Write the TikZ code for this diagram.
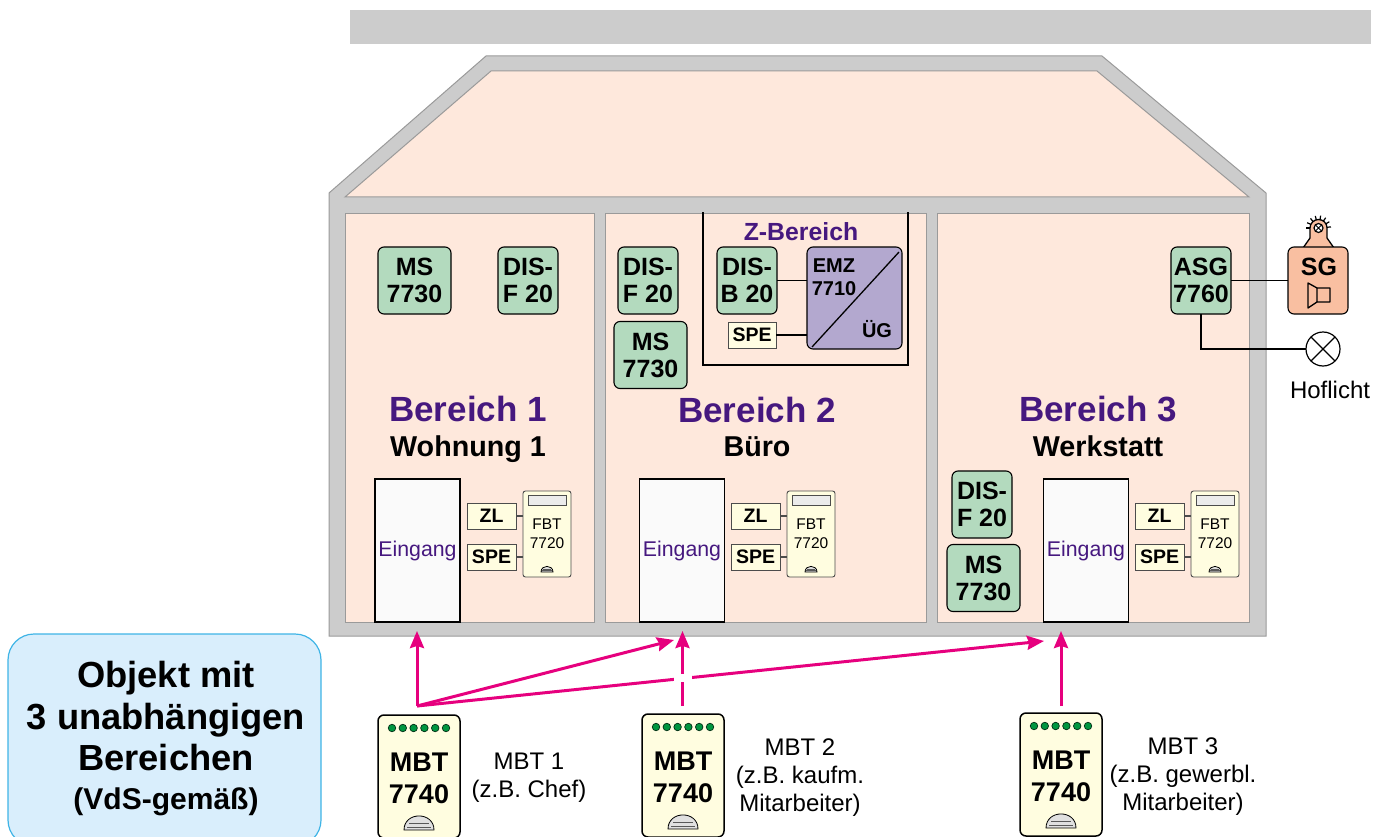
\documentclass[tikz,border=0pt]{standalone}
\usepackage{fontspec}
\setmainfont{Liberation Sans}
\usepackage{xcolor}
\usetikzlibrary{arrows.meta,positioning,shapes}

\definecolor{wallgray}{HTML}{CCCCCC}
\definecolor{wallline}{HTML}{9A9A9A}
\definecolor{roomfill}{HTML}{FEE8DC}
\definecolor{modgreen}{HTML}{B3DABE}
\definecolor{emzfill}{HTML}{B3A8CF}
\definecolor{sirenfill}{HTML}{F9BFA1}
\definecolor{devfill}{HTML}{FFFDE0}
\definecolor{areapurple}{HTML}{46187F}
\definecolor{linkmagenta}{HTML}{E6007E}
\definecolor{infofill}{HTML}{D9EEFC}
\definecolor{infoline}{HTML}{3FB4E6}
\definecolor{ledgreen}{HTML}{009640}

\tikzset{
  wall/.style={draw=wallline,fill=wallgray,line width=1pt},
  room/.style={draw=wallline,fill=roomfill,line width=1pt},
  modbox/.style={draw,fill=modgreen,rounded corners=6pt,line width=1.1pt,align=center,
    minimum width=60pt,minimum height=67pt,font=\fontsize{25}{27}\selectfont\bfseries},
  msbox/.style={modbox,minimum width=73pt},
  smallbox/.style={draw=black!70,fill=devfill,line width=0.9pt,minimum width=49pt,minimum height=26pt,
    font=\fontsize{19.5}{21}\selectfont\bfseries},
  doorbox/.style={draw,fill=black!2,line width=1.3pt,minimum width=85pt,minimum height=143pt,
    text=areapurple,font=\fontsize{21.3}{23}\selectfont},
  fbtbox/.style={draw=black!70,fill=devfill,rounded corners=2.5pt,line width=0.9pt,align=center,
    minimum width=48pt,minimum height=86pt,font=\fontsize{15.5}{19}\selectfont},
  mbtbox/.style={draw,fill=devfill,rounded corners=6pt,line width=1.5pt,align=center,
    minimum width=82pt,minimum height=123pt,font=\fontsize{27}{32}\selectfont\bfseries},
  areatitle/.style={text=areapurple,font=\fontsize{35}{38}\selectfont\bfseries},
  areaname/.style={font=\fontsize{28.7}{32}\selectfont\bfseries},
  mbtnote/.style={align=center,font=\fontsize{24}{28}\selectfont},
  wire/.style={line width=1.3pt},
  link/.style={draw=linkmagenta,line width=3pt,-{Stealth[length=17pt,width=14pt,inset=2pt]}},
  lampsign/.style={draw,circle,fill=white,line width=1.2pt},
  dome/.pic={
    \draw[fill=black!12,line width=0.8pt] (-1,0) .. controls (-1,-1.25) and (1,-1.25) .. (1,0) -- cycle;
    \draw[black!65,line width=0.8pt] (-0.65,-0.45) -- (0.65,-0.45) (-0.8,-0.2) -- (0.8,-0.2);
  }
}

\begin{document}
\begin{tikzpicture}[x=1pt,y=-1pt,inner sep=0pt,outer sep=0pt]
  \useasboundingbox (0,0) rectangle (1383,837);
  \clip (0,0) rectangle (1383,837);

  % Dach und Mauern
  \fill[wallgray] (350,10) rectangle (1371,44);
  \draw[wall] (329,193) -- (486,56) -- (1102,56) -- (1266,193) -- (1266,636) -- (329,636) -- cycle;
  \draw[room] (345,197) -- (491,71) -- (1097,71) -- (1249,197) -- cycle;
  \draw[room] (345,213) rectangle (594,622);
  \draw[room] (605,213) rectangle (926,622);
  \draw[room] (937,213) rectangle (1249,622);

  % Bereich 1
  \node[msbox] (ms1) at (414.5,280.5) {MS\\7730};
  \node[modbox] (dis1) at (528,280.5) {DIS-\\F 20};
  \node[areatitle] (title1) at (468,409) {Bereich 1};
  \node[areaname] (name1) [below=14pt of title1] {Wohnung 1};
  \node[doorbox] (door1) at (417.5,550.5) {Eingang};
  \node[fbtbox] (fbt1) at (547,534) {FBT\\7720};
  \node[smallbox] (zl1) at (491.5,516) {ZL\hspace{10pt}};
  \node[smallbox] (spe1) [below=15pt of zl1] {SPE};

  % Bereich 2
  \node[modbox] (dis2) at (648,280.5) {DIS-\\F 20};
  \node[msbox] (ms2) at (650.5,355) {MS\\7730};
  \node[areatitle] (title2) at (757,410) {Bereich 2};
  \node[areaname] (name2) [below=14pt of title2] {Büro};
  \node[doorbox] (door2) at (682,550.5) {Eingang};
  \node[fbtbox] (fbt2) at (811,534) {FBT\\7720};
  \node[smallbox] (zl2) at (755.5,516) {ZL\hspace{10pt}};
  \node[smallbox] (spe2) [below=15pt of zl2] {SPE};

  % Z-Bereich
  \draw[line width=1.5pt] (703,212) -- (703,365) -- (908,365) -- (908,212);
  \node[text=areapurple,font=\fontsize{24.8}{27}\selectfont\bfseries] (ztitle) at (801,232) {Z-Bereich};
  \node[modbox] (disb) at (747,280.5) {DIS-\\B 20};
  \node[modbox,fill=emzfill,minimum width=95pt,minimum height=102pt] (emz) at (854.5,298) {};
  \node[smallbox,minimum height=26pt,minimum width=48pt,fill=devfill!90,line width=0.8pt] (spez) at (752,335) {SPE};
  \draw[wire] ([shift={(-3,5)}]emz.north east) -- ([shift={(5,-2)}]emz.south west);
  \node[align=center,font=\fontsize{20}{23}\selectfont\bfseries] (emztext) at (834,277) {EMZ\\7710};
  \node[font=\fontsize{20}{23}\selectfont\bfseries] (uegtext) at (877,329) {ÜG};
  \draw[wire] (disb.east) -- (disb.east -| emz.west);
  \draw[wire] (spez.east) -- (spez.east -| emz.west);

  % Bereich 3
  \node[modbox] (asg) at (1201,280.5) {ASG\\7760};
  \node[areatitle] (title3) at (1098,409) {Bereich 3};
  \node[areaname] (name3) [below=14pt of title3] {Werkstatt};
  \node[modbox] (dis3) at (982,504.5) {DIS-\\F 20};
  \node[msbox] (ms3) at (983.5,578) {MS\\7730};
  \node[doorbox] (door3) at (1086,550.5) {Eingang};
  \node[fbtbox] (fbt3) at (1215,534) {FBT\\7720};
  \node[smallbox] (zl3) at (1159.5,516) {ZL\hspace{10pt}};
  \node[smallbox] (spe3) [below=15pt of zl3] {SPE};

  % Anzeige und Taste der FBT
  \foreach \fbt in {fbt1,fbt2,fbt3} {
    \draw[black!70,fill=black!8,line width=0.8pt] ([shift={(-19,4)}]\fbt.north) rectangle ([shift={(19,14)}]\fbt.north);
    \path ([shift={(0,-5)}]\fbt.south) pic[scale=6] {dome};
  }
  \draw[wire,black!70] (zl1.east) -- (zl1.east -| fbt1.west);
  \draw[wire,black!70] (spe1.east) -- (spe1.east -| fbt1.west);
  \draw[wire,black!70] (zl2.east) -- (zl2.east -| fbt2.west);
  \draw[wire,black!70] (spe2.east) -- (spe2.east -| fbt2.west);
  \draw[wire,black!70] (zl3.east) -- (zl3.east -| fbt3.west);
  \draw[wire,black!70] (spe3.east) -- (spe3.east -| fbt3.west);

  % Signalgeber und Hoflicht
  \node[lampsign,minimum size=9pt,draw=none,fill=none] (lamp) at (1318.5,228) {};
  \foreach \a in {180,205,...,360}
    \draw[line width=1.2pt] ([shift={(\a:8)}]lamp.center) -- ([shift={(\a:12.5)}]lamp.center);
  \draw[fill=sirenfill,line width=1.3pt,line join=round]
    (1303,248) -- (1310,238) -- (1310,228) arc[start angle=180,end angle=360,radius=8.5] -- (1327,238) -- (1334,248) -- cycle;
  \node[lampsign,minimum size=9pt] (lampsign) at (lamp) {};
  \draw[line width=0.9pt] (lampsign.north east) -- (lampsign.south west) (lampsign.north west) -- (lampsign.south east);
  \node[modbox,fill=sirenfill] (sg) at (1318,280.5) {};
  \node[font=\fontsize{25}{27}\selectfont\bfseries] (sgtext) at (1319,267) {SG};
  \draw[wire,line join=round] (1308,283) -- (1317,288) -- (1330,288) -- (1330,302) -- (1317,302) -- (1308,308) -- cycle (1317,288) -- (1317,302);
  \node[lampsign,minimum size=34pt] (hof) at (1323,349) {};
  \draw[wire] (hof.north east) -- (hof.south west) (hof.north west) -- (hof.south east);
  \node[font=\fontsize{24}{26}\selectfont] (hoftext) at (1330,390) {Hoflicht};
  \draw[wire] (asg.east) -- (sg.west);
  \draw[wire] (asg.south) |- (hof.west);

  % Meldeblöcke
  \node[mbtbox] (mbt1) at (419,776.5) {\rule{0pt}{22pt}MBT\\7740};
  \node[mbtbox] (mbt2) at (683,775.5) {\rule{0pt}{22pt}MBT\\7740};
  \node[mbtbox] (mbt3) at (1061,774.5) {\rule{0pt}{22pt}MBT\\7740};
  \foreach \mbt in {mbt1,mbt2,mbt3} {
    \foreach \x in {-27,-16.2,-5.4,5.4,16.2,27}
      \node[draw=black!70!ledgreen,fill=ledgreen,circle,minimum size=7.5pt,line width=0.7pt] at ([shift={(\x,13)}]\mbt.north) {};
    \path ([shift={(0,-8)}]\mbt.south) pic[scale=15] {dome};
  }
  \node[mbtnote] (note1) at (529,778) {MBT 1\\(z.B. Chef)};
  \node[mbtnote] (note2) at (800,778) {MBT 2\\(z.B. kaufm.\\Mitarbeiter)};
  \node[mbtnote] (note3) at (1183,777) {MBT 3\\(z.B. gewerbl.\\Mitarbeiter)};

  % Verbindungen
  \coordinate (start1) at (417,706);
  \coordinate (start2) at (682.5,706);
  \coordinate (start3) at (1061,706);
  \coordinate (end1) at (417,631);
  \coordinate (end2a) at (674,640);
  \coordinate (end2b) at (682.5,631);
  \coordinate (end3a) at (1044,641);
  \coordinate (end3b) at (1061,631);
  \draw[link] (start1) -- (end1);
  \draw[link] (start1) -- (end2a);
  \draw[link] (start1) -- (end3a);
  \draw[link] (start2) -- (end2b);
  \draw[link] (start3) -- (end3b);
  \node[fill=white,minimum width=18pt,minimum height=8pt] (gap) at (682.5,678) {};

  % Infokasten
  \node[draw=infoline,fill=infofill,rounded corners=26pt,line width=1.2pt,
    minimum width=313pt,minimum height=212pt] (info) at (164.5,740) {};
  \node[align=center,font=\fontsize{36.3}{41.5}\selectfont\bfseries] (infotext) at (166,738.5)
    {Objekt mit\\3 unabhängigen\\Bereichen\\[-3pt]{\fontsize{30}{34}\selectfont (VdS-gemäß)}};
\end{tikzpicture}
\end{document}
